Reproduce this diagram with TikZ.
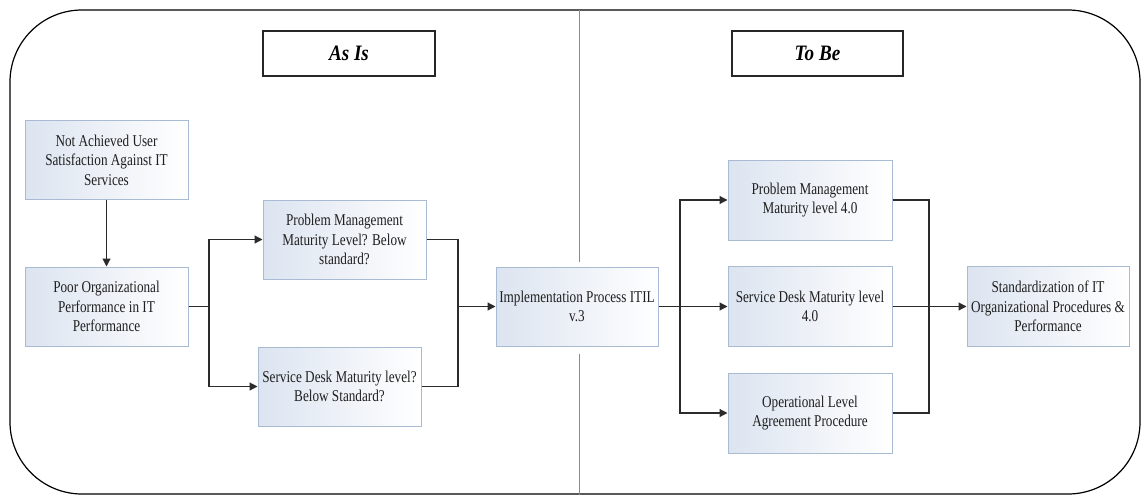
\documentclass[tikz,border=0pt]{standalone}
\usepackage{fontspec}
\setmainfont{Liberation Serif}
\newfontfamily\boxfont{Liberation Serif}[FakeStretch=0.8]
\newfontfamily\headfont{Liberation Serif}[FakeStretch=0.87]
\usetikzlibrary{arrows.meta,calc}
\definecolor{boxedge}{HTML}{A9BBD2}
\definecolor{boxtint}{HTML}{DCE4F0}
\definecolor{linecol}{HTML}{2B2B2B}
\definecolor{divider}{HTML}{8A8A8A}
\begin{document}
\begin{tikzpicture}[x=1pt,y=-1pt,
  procbox/.style={draw=boxedge,line width=1pt,left color=boxtint,right color=white,
    minimum width=163pt,minimum height=79pt,inner sep=1pt,align=center,
    text=black!88,font=\boxfont\fontsize{16.5}{19.5}\selectfont},
  titlebox/.style={draw=black!85,line width=1.2pt,fill=white,minimum height=45pt,
    minimum width=171pt,font=\headfont\fontsize{22}{25}\selectfont\bfseries\itshape},
  link/.style={draw=linecol,line width=1.2pt},
  arr/.style={link,-{Triangle[length=8pt,width=8pt]}}]
\useasboundingbox (0,0) rectangle (1142,495);
% outer frame
\draw[line width=1.2pt,rounded corners=72pt] (10,10) rectangle (1140,494);
% section titles
\node[titlebox,minimum width=172pt] (asis) at (349,53.5) {As Is};
\node[titlebox] (tobe) at (817.5,53.5) {To Be};
% process boxes
\node[procbox] (user) at (106.5,160) {Not Achieved User\\Satisfaction Against IT\\Services};
\node[procbox] (poor) at (106.5,306.5) {Poor Organizational\\Performance in IT\\Performance};
\node[procbox] (pmq) at (344.5,239.5) {Problem Management\\Maturity Level? Below\\standard?};
\node[procbox] (sdq) at (339.5,386.5) {Service Desk Maturity level?\\Below Standard?};
\node[procbox,minimum width=162pt] (itil) at (577,306.5) {Implementation Process ITIL\\v.3};
\node[procbox,minimum width=164pt,minimum height=80pt] (pm4) at (810,200) {Problem Management\\Maturity level 4.0};
\node[procbox,minimum width=164pt,minimum height=80pt] (sd4) at (810,306.5) {Service Desk Maturity level\\4.0};
\node[procbox,minimum width=164pt,minimum height=80pt] (ola) at (810,413) {Operational Level\\Agreement Procedure};
\node[procbox,minimum width=162pt,minimum height=80pt] (std) at (1048,306.5) {Standardization of IT\\Organizational Procedures \&\\Performance};
% divider between the two halves, interrupted around the ITIL box
\coordinate (dtop) at (579,10);
\coordinate (dbot) at (579,495);
\draw[divider,line width=1pt] (dtop) -- ($(dtop |- itil.north)+(0,-5)$);
\draw[divider,line width=1pt] ($(dbot |- itil.south)+(0,7)$) -- (dbot);
% junction points
\coordinate (f1) at (209,306.5);
\coordinate (j1) at (458,306.5);
\coordinate (f2) at (680,306.5);
\coordinate (j2) at (929,306.5);
% connectors
\draw[arr] (user.south) -- (poor.north);
\draw[link] (poor.east) -- (f1);
\draw[arr] (f1) |- (pmq.west);
\draw[arr] (f1) |- (sdq.west);
\draw[link] (pmq.east) -| (j1);
\draw[link] (sdq.east) -| (j1);
\draw[arr] (j1) -- (itil.west);
\draw[link] (itil.east) -- (f2);
\draw[arr] (f2) |- (pm4.west);
\draw[arr] (f2) -- (sd4.west);
\draw[arr] (f2) |- (ola.west);
\draw[link] (pm4.east) -| (j2);
\draw[link] (ola.east) -| (j2);
\draw[arr] (sd4.east) -- (std.west);
\end{tikzpicture}
\end{document}
